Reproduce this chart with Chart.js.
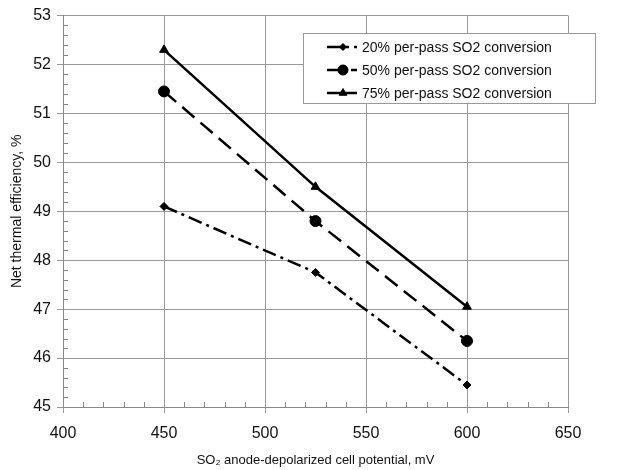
<!DOCTYPE html>
<html lang="en">
<head>
    <meta charset="UTF-8">
    <title>Net thermal efficiency vs cell potential</title>
    <script src="https://cdn.jsdelivr.net/npm/chart.js"></script>
    <style>
        body { margin: 0; background: #ffffff; }
        #wrap { width: 636px; height: 470px; }
    </style>
</head>
<body>
    <div id="wrap"><canvas id="grafico" width="636" height="470"></canvas></div>

    <script>
        // datos
        const potenciales = [450, 525, 600];
        const conv20 = [49.1, 47.75, 45.45];
        const conv50 = [51.45, 48.8, 46.35];
        const conv75 = [52.3, 49.5, 47.05];
        const etiquetas = [
            '20% per-pass SO2 conversion',
            '50% per-pass SO2 conversion',
            '75% per-pass SO2 conversion'
        ];

        const fuente = 'Liberation Sans, Arial, sans-serif';

        function puntos(ys) {
            return potenciales.map((x, i) => ({ x: x, y: ys[i] }));
        }

        // marcas menores hacia dentro en ambos ejes
        const marcasMenores = {
            id: 'marcasMenores',
            afterDatasetsDraw(chart) {
                const ctx = chart.ctx;
                const xs = chart.scales.x, ys = chart.scales.y;
                ctx.save();
                ctx.strokeStyle = '#888';
                ctx.lineWidth = 1;
                ctx.beginPath();
                for (let v = 410; v < 650; v += 10) {
                    if (v % 50 === 0) continue;
                    const px = Math.round(xs.getPixelForValue(v)) + 0.5;
                    ctx.moveTo(px, ys.bottom);
                    ctx.lineTo(px, ys.bottom - 5);
                }
                for (let k = 1; k < 40; k++) {
                    if (k % 5 === 0) continue;
                    const py = Math.round(ys.getPixelForValue(45 + k * 0.2)) + 0.5;
                    ctx.moveTo(xs.left, py);
                    ctx.lineTo(xs.left + 5, py);
                }
                ctx.stroke();
                ctx.restore();
            }
        };

        // leyenda dibujada a mano (linea + marcador)
        const leyenda = {
            id: 'leyenda',
            afterDraw(chart) {
                const ctx = chart.ctx;
                const box = { x: 303.5, y: 33.5, w: 292, h: 70 };
                ctx.save();
                ctx.fillStyle = '#fff';
                ctx.fillRect(box.x, box.y, box.w, box.h);
                ctx.strokeStyle = '#999';
                ctx.lineWidth = 1;
                ctx.strokeRect(box.x, box.y, box.w, box.h);
                chart.data.datasets.forEach((ds, i) => {
                    const y = 47 + i * 23;
                    ctx.strokeStyle = '#000';
                    ctx.fillStyle = '#000';
                    ctx.lineWidth = 2.5;
                    ctx.setLineDash(ds.borderDash || []);
                    ctx.beginPath();
                    ctx.moveTo(327, y);
                    ctx.lineTo(357, y);
                    ctx.stroke();
                    ctx.setLineDash([]);
                    ctx.lineWidth = 1;
                    Chart.helpers.drawPoint(ctx, {
                        pointStyle: ds.pointStyle,
                        radius: ds.pointRadius - 0.5,
                        rotation: 0,
                        borderWidth: 1
                    }, 343, y);
                    ctx.fillStyle = '#111';
                    ctx.font = '14px ' + fuente;
                    ctx.textBaseline = 'middle';
                    ctx.fillText(etiquetas[i], 362, y + 1);
                });
                ctx.restore();
            }
        };

        function serie(idx, ys, estilo, radio, guiones) {
            return {
                label: etiquetas[idx],
                data: puntos(ys),
                borderColor: '#000',
                backgroundColor: '#000',
                borderWidth: 2.5,
                borderDash: guiones,
                pointStyle: estilo,
                pointRadius: radio,
                pointBorderWidth: 1,
                tension: 0
            };
        }

        new Chart(document.getElementById('grafico'), {
            type: 'line',
            data: {
                datasets: [
                    serie(0, conv20, 'rectRot', 4, [14, 5, 3, 5]),
                    serie(1, conv50, 'circle', 5.5, [16, 8]),
                    serie(2, conv75, 'triangle', 5, [])
                ]
            },
            options: {
                responsive: false,
                animation: false,
                layout: { padding: { top: 12, right: 68, left: 0, bottom: 2 } },
                plugins: {
                    legend: { display: false },
                    tooltip: { enabled: false }
                },
                scales: {
                    x: {
                        type: 'linear',
                        min: 400,
                        max: 650,
                        afterFit(scale) { scale.height = 61; },
                        ticks: {
                            stepSize: 50,
                            color: '#111',
                            padding: 11,
                            font: { family: fuente, size: 16 }
                        },
                        grid: { color: '#9a9a9a', tickLength: 6, lineWidth: 1 },
                        border: { color: '#888' },
                        title: {
                            display: true,
                            text: 'SO\u2082 anode-depolarized cell potential, mV',
                            color: '#111',
                            padding: { top: 2, bottom: 0 },
                            font: { family: fuente, size: 13 }
                        }
                    },
                    y: {
                        type: 'linear',
                        min: 45,
                        max: 53,
                        afterFit(scale) { scale.width = 63; },
                        ticks: {
                            stepSize: 1,
                            color: '#111',
                            padding: 6,
                            font: { family: fuente, size: 16 }
                        },
                        grid: { color: '#9a9a9a', tickLength: 6, lineWidth: 1 },
                        border: { color: '#888' },
                        title: {
                            display: true,
                            text: 'Net thermal efficiency, %',
                            color: '#111',
                            padding: { top: 9, bottom: 0 },
                            font: { family: fuente, size: 14 }
                        }
                    }
                }
            },
            plugins: [marcasMenores, leyenda]
        });
    </script>
</body>
</html>
